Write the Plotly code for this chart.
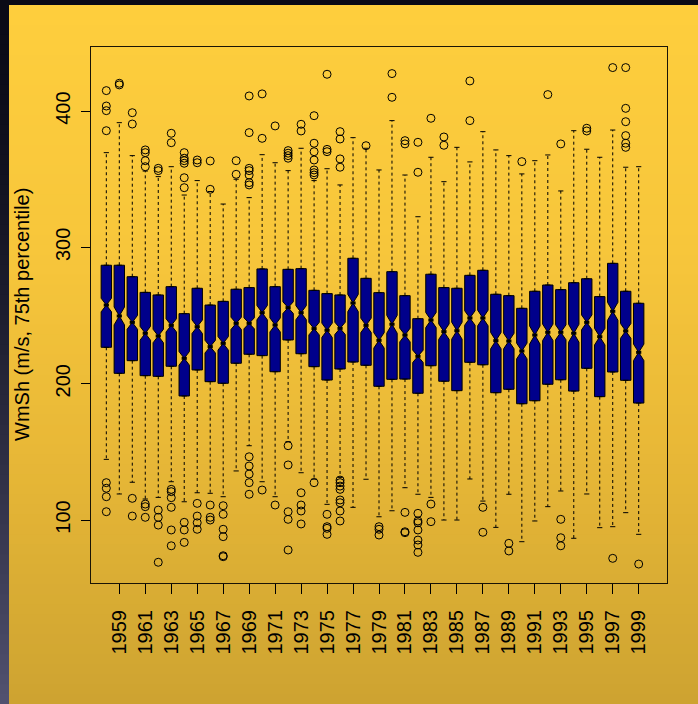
import plotly.graph_objects as go

years = list(range(1958, 2000))

q1 = [226.7, 207.6, 216.9, 205.9, 205.4, 212.8, 191.0, 210.1, 201.5, 200.3,
      215.0, 221.6, 220.6, 208.8, 232.1, 222.0, 212.5, 202.7, 210.8, 215.9,
      213.5, 198.1, 203.2, 203.4, 193.0, 213.2, 201.8, 194.9, 215.7, 213.9,
      193.4, 195.9, 185.3, 187.5, 199.6, 202.9, 194.6, 211.3, 190.5, 208.6,
      202.5, 185.8]
median = [257.7, 249.7, 245.0, 237.0, 235.0, 242.8, 218.6, 241.8, 227.2, 229.6,
          244.3, 244.3, 252.1, 243.1, 255.8, 252.1, 240.4, 239.2, 240.6, 259.2,
          242.8, 231.8, 243.6, 235.7, 220.1, 246.7, 238.2, 238.9, 248.2, 248.2,
          231.6, 231.3, 224.0, 235.7, 237.7, 237.7, 237.0, 245.0, 234.5, 253.1,
          238.7, 223.0]
q3 = [286.9, 286.9, 278.5, 267.0, 265.1, 271.2, 251.4, 270.0, 257.7, 260.4,
      269.3, 270.5, 284.2, 271.2, 283.9, 284.4, 268.5, 266.1, 265.1, 292.0,
      277.3, 266.8, 282.2, 264.6, 247.7, 280.3, 270.5, 270.0, 279.5, 283.2,
      265.6, 264.6, 255.3, 267.8, 272.4, 269.0, 274.1, 277.0, 263.9, 288.3,
      267.8, 259.0]
whisker_high = [369.5, 391.5, 367.3, 356.0, 351.9, 359.2, 338.4, 349.0, 341.0, 331.8,
                350.0, 336.5, 368.0, 362.1, 356.3, 372.7, 349.0, 357.7, 345.8, 380.5,
                372.7, 356.8, 393.0, 353.1, 322.5, 366.1, 348.2, 373.4, 362.7, 384.9,
                371.5, 367.3, 353.9, 363.6, 367.8, 341.4, 385.6, 372.0, 366.1, 386.1,
                358.8, 359.2]
whisker_low = [144.5, 119.1, 127.7, 115.4, 116.6, 128.1, 113.4, 120.0, 119.6, 117.1,
               136.0, 154.5, 128.1, 117.1, 157.5, 134.7, 130.1, 111.5, 131.3, 109.3,
               129.9, 102.4, 106.8, 123.7, 118.9, 116.6, 100.0, 100.0, 130.1, 113.9,
               94.6, 118.9, 84.1, 99.3, 109.8, 121.3, 86.6, 119.1, 94.4, 95.1,
               105.4, 89.5]
n_obs = [365] * 42
outliers = [
    [415.0, 403.7, 400.3, 385.6, 127.4, 123.3, 117.1, 106.1],
    [420.4, 419.2],
    [398.8, 390.5, 115.9, 102.9],
    [371.5, 369.5, 363.6, 359.2, 111.7, 109.8, 102.0],
    [358.0, 356.3, 107.3, 102.0, 96.3, 69.0],
    [383.7, 376.8, 122.5, 120.8, 116.4, 109.3, 92.7, 81.1],
    [369.5, 365.4, 363.6, 361.7, 351.1, 343.8, 98.3, 92.7, 83.6],
    [364.1, 362.1, 112.2, 102.9, 98.0, 93.2],
    [363.4, 342.6, 111.0, 102.0, 100.0],
    [110.5, 104.2, 93.2, 87.8, 73.8, 73.1],
    [363.6, 353.6],
    [411.1, 384.2, 358.0, 356.3, 353.1, 347.5, 345.8, 146.4, 139.6, 133.7, 127.4, 118.9],
    [412.6, 380.0, 122.0],
    [389.1, 111.0],
    [371.0, 369.1, 367.3, 365.4, 154.5, 140.4, 106.1, 100.5, 78.0],
    [390.3, 385.4, 120.0, 111.0, 106.6, 97.1],
    [396.6, 376.4, 370.2, 364.1, 356.8, 354.8, 353.1, 127.4],
    [427.0, 371.9, 370.2, 104.2, 95.1, 93.9, 89.5],
    [384.9, 379.5, 364.9, 358.8, 129.3, 127.4, 124.9, 122.5, 114.7, 112.7, 106.6, 99.3],
    [],
    [374.6],
    [95.1, 93.2, 89.0],
    [427.5, 410.1],
    [378.3, 375.9, 105.6, 91.4, 90.7],
    [377.1, 355.1, 104.9, 99.3, 98.0, 92.7, 85.3, 81.7, 76.3],
    [394.7, 111.7, 98.8],
    [381.0, 374.9],
    [],
    [422.1, 393.0],
    [109.3, 91.0],
    [],
    [82.9, 77.3],
    [362.9],
    [],
    [412.1],
    [375.9, 100.5, 87.0, 81.1],
    [],
    [387.4, 385.4],
    [],
    [431.9, 71.9],
    [431.9, 402.0, 392.2, 382.0, 376.4, 373.4],
    [67.7],
]
tick_years = list(range(1959, 2000, 2))
tick_labels = [str(y) for y in tick_years]

# ---- layout geometry (pixels) ----
W, H = 698, 704
ML, MR, MT, MB = 91, 31, 47, 121
PW, PH = W - ML - MR, H - MT - MB
FONT = "Liberation Sans, Arial, Helvetica, sans-serif"
FS = 20

def px_x(p):
    return (p - ML) / PW

def px_y(p):
    return (H - MB - p) / PH

def lerp(c0, c1, t):
    return tuple(int(round(a + (b - a) * t)) for a, b in zip(c0, c1))

# background gradient shapes (overlapping strips, drawn top to bottom)
shapes = []
stops = [(5, (254, 206, 61)), (250, (247, 198, 59)), (450, (232, 184, 55)), (704, (205, 163, 49))]
nstrip = 70
for i in range(nstrip):
    y0 = 5 + (H - 5) * i / nstrip
    y1 = 5 + (H - 5) * (i + 1) / nstrip
    ym = (y0 + y1) / 2
    for (a, ca), (b, cb) in zip(stops[:-1], stops[1:]):
        if a <= ym <= b:
            col = lerp(ca, cb, (ym - a) / (b - a))
            break
    shapes.append(dict(type="rect", xref="paper", yref="paper", layer="below",
                       x0=px_x(9), x1=px_x(W + 2), y0=px_y(y1 + 3), y1=px_y(y0),
                       fillcolor="rgb(%d,%d,%d)" % col, line=dict(width=0)))
    band = lerp((10, 10, 22), (82, 82, 112), (ym / H) ** 1.6)
    shapes.append(dict(type="rect", xref="paper", yref="paper", layer="below",
                       x0=px_x(-2), x1=px_x(9), y0=px_y(y1 + 3), y1=px_y(y0),
                       fillcolor="rgb(%d,%d,%d)" % band, line=dict(width=0)))

notch = [1.58 * (b - a) / (n ** 0.5) for a, b, n in zip(q1, q3, n_obs)]

fig = go.Figure()
fig.add_trace(go.Box(
    x=years, q1=q1, median=median, q3=q3,
    lowerfence=q1, upperfence=q3, notchspan=notch,
    notched=True, notchwidth=0.5, width=0.8, whiskerwidth=0.5,
    boxpoints=False, fillcolor="#00008B",
    line=dict(color="black", width=1), showlegend=False, hoverinfo="skip"))

# dashed whiskers
wx, wy = [], []
for yr, a, b, lo, hi in zip(years, q1, q3, whisker_low, whisker_high):
    wx += [yr, yr, None, yr, yr, None]
    wy += [b, hi, None, a, lo, None]
fig.add_trace(go.Scatter(x=wx, y=wy, mode="lines", showlegend=False, hoverinfo="skip",
                         line=dict(color="black", width=1, dash="3px,3px")))
# staples
sx, sy = [], []
for yr, lo, hi in zip(years, whisker_low, whisker_high):
    sx += [yr - 0.2, yr + 0.2, None, yr - 0.2, yr + 0.2, None]
    sy += [hi, hi, None, lo, lo, None]
fig.add_trace(go.Scatter(x=sx, y=sy, mode="lines", showlegend=False, hoverinfo="skip",
                         line=dict(color="black", width=1)))
# thick medians
mx, my = [], []
for yr, m in zip(years, median):
    mx += [yr - 0.2, yr + 0.2, None]
    my += [m, m, None]
fig.add_trace(go.Scatter(x=mx, y=my, mode="lines", showlegend=False, hoverinfo="skip",
                         line=dict(color="black", width=3)))
# outliers
ox, oy = [], []
for yr, vals in zip(years, outliers):
    for v in vals:
        ox.append(yr)
        oy.append(v)
fig.add_trace(go.Scatter(x=ox, y=oy, mode="markers", showlegend=False, hoverinfo="skip",
                         marker=dict(symbol="circle-open", size=8, color="black",
                                     line=dict(width=1, color="black"))))

fig.update_layout(
    width=W, height=H, autosize=False,
    margin=dict(l=ML, r=MR, t=MT, b=MB, pad=0),
    paper_bgcolor="#0a0a16", plot_bgcolor="rgba(0,0,0,0)",
    font=dict(family=FONT, size=FS, color="black"),
    shapes=shapes,
    xaxis=dict(range=[1956.82, 2001.18], tickmode="array", tickvals=tick_years,
               ticktext=tick_labels, tickangle=-90, ticks="outside", ticklen=10,
               tickcolor="black", showgrid=False, zeroline=False, showline=True,
               linecolor="#1a1405", linewidth=1, mirror=True, automargin=False,
               ticklabelstandoff=8, tickfont=dict(size=FS, family=FONT)),
    yaxis=dict(range=[53.8, 447.0], tickvals=[100, 200, 300, 400], tickangle=-90,
               ticks="outside", ticklen=9, tickcolor="black", showgrid=False,
               zeroline=False, showline=True, linecolor="#1a1405", linewidth=1,
               mirror=True, automargin=False, ticklabelstandoff=3,
               tickfont=dict(size=FS, family=FONT)),
    annotations=[dict(text="WmSh (m/s, 75th percentile)", xref="paper", yref="paper",
                      x=px_x(22), y=0.5, xanchor="center", yanchor="middle",
                      textangle=-90, showarrow=False,
                      font=dict(size=FS, family=FONT, color="black"))],
)

fig.write_html("out.html",
               config={"displayModeBar": False, "staticPlot": True},
               post_script="document.body.style.margin='0px';"
                           "document.body.style.overflow='hidden';"
                           "document.body.style.background='#0a0a16';")
